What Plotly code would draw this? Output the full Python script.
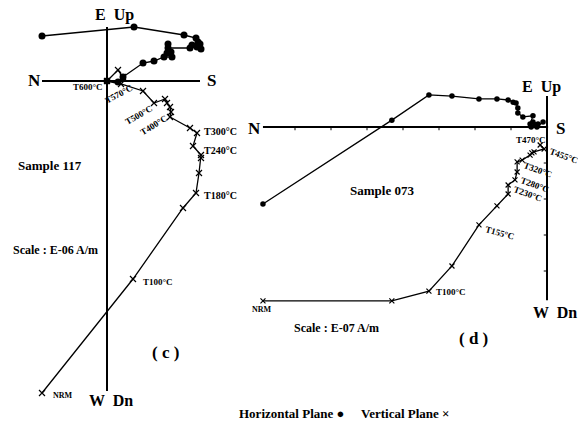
import plotly.graph_objects as go

W, H = 578, 423

# ---- Sample 117 (scale E-06 A/m) ----
# horizontal-plane projection: N component vs E component
s117_hz_n = [-3.25, 1.35, 3.85, 4.45, 4.55, 4.65, 4.7, 4.5, 4.25, 4.15, 3.05, 3.05,
             3.2, 3.0, 3.25, 2.85, 2.35, 1.8, 0.8, 0.55, 0.0]
s117_hz_e = [2.25, 2.7, 2.3, 2.15, 1.95, 1.85, 1.6, 1.7, 1.8, 1.65, 1.65, 1.85,
             1.45, 1.4, 1.2, 1.2, 1.0, 0.9, 0.2, -0.05, 0.0]
# vertical-plane projection: N component vs Up component
s117_vt_n = [-3.25, 1.3, 3.8, 4.45, 4.6, 4.7, 4.7, 4.3, 4.5, 4.15, 3.15, 3.2,
             3.15, 3.0, 2.9, 2.35, 1.8, 0.7, 0.0, 0.55, 0.8]
s117_vt_up = [-15.6, -9.9, -6.35, -5.6, -4.6, -3.85, -3.7, -3.25, -2.6, -2.35, -1.8, -1.55,
              -1.3, -1.1, -0.9, -1.1, -0.5, -0.15, 0.0, 0.55, 0.2]

# ---- Sample 073 (scale E-07 A/m) ----
s073_hz_n = [-7.89, -4.31, -3.28, -2.64, -1.89, -1.39, -1.08, -0.94, -0.86, -0.81,
             -0.81, -0.67, -0.39, -0.47, -0.39, -0.33, -0.25, -0.44, -0.28, -0.11]
s073_hz_e = [-2.14, 0.19, 0.89, 0.86, 0.78, 0.78, 0.75, 0.69, 0.67, 0.53,
             0.39, 0.28, 0.31, 0.08, 0.14, 0.06, 0.08, 0.0, 0.0, 0.14]
s073_vt_n = [-7.89, -4.31, -3.28, -2.64, -1.89, -1.39, -1.08, -1.08, -0.89, -0.83,
             -0.83, -0.69, -0.47, -0.42, -0.36, -0.08, -0.19]
s073_vt_up = [-4.83, -4.83, -4.56, -3.86, -2.72, -2.19, -1.86, -1.61, -1.47, -1.25,
              -0.97, -0.92, -0.78, -0.72, -0.69, -0.61, -0.5]

# axis tick positions on the sample 073 diagram
s073_ticks_n = [-1, -2, -3, -4, -5, -6, -7]
s073_ticks_up = [-1, -2, -3, -4]

# diagram frames: (origin pixel, pixels per unit)
ORIG_C, K_C = (107, 81), 20.0
ORIG_D, K_D = (547, 127), 36.0

def axis_range(orig, k):
    ox, oy = orig
    return [-ox / k, (W - ox) / k], [(oy - H) / k, oy / k]

xr_c, yr_c = axis_range(ORIG_C, K_C)
xr_d, yr_d = axis_range(ORIG_D, K_D)

fig = go.Figure()

dot = dict(symbol="circle", color="black")
cross = dict(symbol="x-thin", color="black", line=dict(color="black", width=1.2))
ln = dict(color="black", width=1.3)

fig.add_trace(go.Scatter(x=s117_hz_n, y=s117_hz_e, mode="lines+markers",
                         line=ln, marker=dict(size=7, **dot), xaxis="x", yaxis="y"))
fig.add_trace(go.Scatter(x=s117_vt_n, y=s117_vt_up, mode="lines+markers",
                         line=ln, marker=dict(size=6, **cross), xaxis="x", yaxis="y"))
fig.add_trace(go.Scatter(x=s073_hz_n, y=s073_hz_e, mode="lines+markers",
                         line=ln, marker=dict(size=5.5, **dot), xaxis="x2", yaxis="y2"))
fig.add_trace(go.Scatter(x=s073_vt_n, y=s073_vt_up, mode="lines+markers",
                         line=ln, marker=dict(size=5, **cross), xaxis="x2", yaxis="y2"))

shapes = []
axl = dict(color="black", width=2)
# sample 117 axes
shapes.append(dict(type="line", xref="x", yref="y", x0=-3.25, x1=4.65, y0=0, y1=0, line=axl))
shapes.append(dict(type="line", xref="x", yref="y", x0=0, x1=0, y0=2.7, y1=-15.5, line=axl))
# sample 073 axes
shapes.append(dict(type="line", xref="x2", yref="y2", x0=-7.89, x1=0.03, y0=0, y1=0, line=axl))
shapes.append(dict(type="line", xref="x2", yref="y2", x0=0, x1=0, y0=0.86, y1=-4.81, line=axl))
for t in s073_ticks_n:
    shapes.append(dict(type="line", xref="x2", yref="y2", x0=t, x1=t, y0=0, y1=-0.09,
                       line=dict(color="black", width=1)))
for t in s073_ticks_up:
    shapes.append(dict(type="line", xref="x2", yref="y2", x0=0, x1=-0.09, y0=t, y1=t,
                       line=dict(color="black", width=1)))

ann = []
FONT = "Liberation Serif"

def label(text, px, py, size, angle=0):
    ann.append(dict(text="<b>%s</b>" % text, x=px / W, y=1 - py / H, xref="paper", yref="paper",
                    showarrow=False, textangle=angle, xanchor="center", yanchor="middle",
                    font=dict(family=FONT, size=size, color="black")))

# sample 117 diagram text
label("E  Up", 114, 15, 16)
label("W  Dn", 111, 400, 16)
label("N", 34, 81, 17)
label("S", 211, 81, 17)
label("Sample 117", 50, 165, 13)
label("Scale : E-06 A/m", 55, 250, 12)
label("( c )", 165, 352, 17)
label("T600°C", 88, 87, 9)
label("T570°C", 119, 94, 9, -28)
label("T500°C", 139, 115, 9, -30)
label("T400°C", 154, 125, 9, -32)
label("T300°C", 220, 131, 10)
label("T240°C", 221, 151, 10)
label("T180°C", 221, 195, 10)
label("T100°C", 158, 282, 9)
label("NRM", 63, 395, 8)

# sample 073 diagram text
label("E  Up", 541, 87, 16)
label("W  Dn", 555, 312, 16)
label("N", 254, 128, 17)
label("S", 560, 128, 17)
label("Sample 073", 382, 190, 13)
label("Scale : E-07 A/m", 336, 328, 12)
label("( d )", 473, 338, 17)
label("T470°C", 531, 140, 9)
label("T455°C", 564, 156, 9, 20)
label("T320°C", 538, 170, 9, 20)
label("T280°C", 535, 185, 9, 20)
label("T230°C", 528, 194, 9, 20)
label("T155°C", 500, 233, 9, 15)
label("T100°C", 451, 292, 9)
label("NRM", 262, 309, 8)

# key
label("Horizontal Plane ●", 291, 413, 13)
label("Vertical Plane ×", 405, 413, 13)

hidden = dict(visible=False, showgrid=False, zeroline=False, fixedrange=True)
fig.update_layout(
    width=W, height=H, margin=dict(l=0, r=0, t=0, b=0),
    paper_bgcolor="white", plot_bgcolor="white", showlegend=False,
    xaxis=dict(domain=[0, 1], range=xr_c, **hidden),
    yaxis=dict(domain=[0, 1], range=yr_c, **hidden),
    xaxis2=dict(domain=[0, 1], range=xr_d, overlaying="x", **hidden),
    yaxis2=dict(domain=[0, 1], range=yr_d, overlaying="y", anchor="x2", **hidden),
    shapes=shapes, annotations=ann,
)

fig.write_html("out.html")
